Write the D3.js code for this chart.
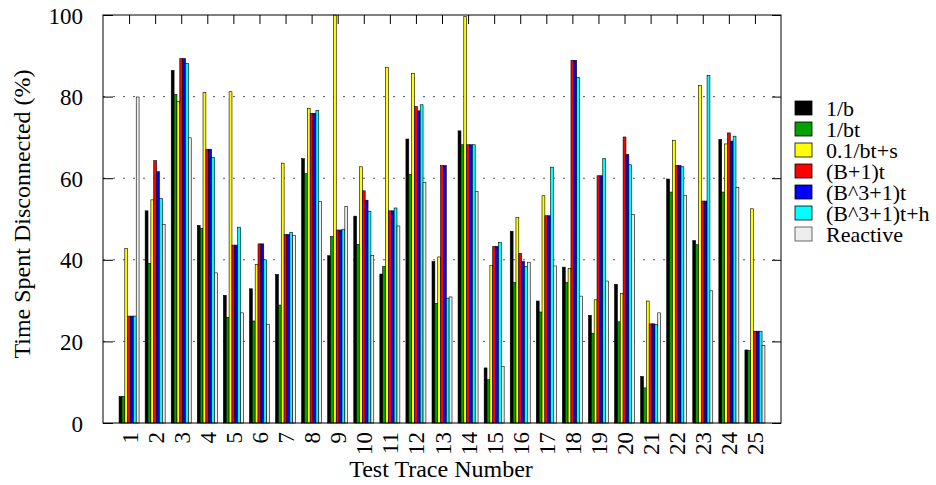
<!DOCTYPE html>
<html>
<head>
<meta charset="utf-8">
<script src="https://cdn.jsdelivr.net/npm/d3@7/dist/d3.min.js"></script>
<style>
  html, body { margin: 0; padding: 0; background: #fff; }
  svg { display: block; }
  text { font-family: "Liberation Serif", "Times New Roman", serif; fill: #000; }
</style>
</head>
<body>
<svg id="chart" width="936" height="485"></svg>
<script>
const traces = ["1","2","3","4","5","6","7","8","9","10","11","12","13","14","15","16","17","18","19","20","21","22","23","24","25"];
const seriesNames = ["1/b","1/bt","0.1/bt+s","(B+1)t","(B^3+1)t","(B^3+1)t+h","Reactive"];
const seriesColors = ["#000000","#00a000","#ffff00","#ff0000","#0000ff","#00ffff","#eeeeee"];
const yTicks = [0, 20, 40, 60, 80, 100];
const gridTicks = [20, 40, 60, 80];

const s_1b =     [6.5, 52.0, 86.4, 48.4, 31.3, 32.9, 36.4, 64.8, 41.0, 50.7, 36.5, 69.6, 39.6, 71.6, 13.5, 47.0, 29.9, 38.2, 26.4, 34.0, 11.4, 59.8, 44.7, 69.5, 17.9];
const s_1bt =    [6.5, 39.1, 80.5, 47.7, 25.9, 25.0, 28.9, 61.1, 45.7, 43.8, 38.4, 60.9, 29.3, 68.2, 10.6, 34.4, 27.2, 34.4, 22.0, 24.8, 8.6, 56.6, 43.7, 56.6, 17.8];
const s_01bts =  [42.8, 54.7, 78.8, 81.0, 81.2, 38.9, 63.7, 77.1, 100.0, 62.8, 87.2, 85.7, 40.7, 99.6, 38.6, 50.4, 55.7, 37.9, 30.2, 31.7, 29.9, 69.3, 82.7, 68.4, 52.5];
const s_B1t =    [26.2, 64.3, 89.3, 67.1, 43.6, 43.9, 46.2, 75.9, 47.3, 56.9, 52.0, 77.6, 63.1, 68.2, 43.3, 41.6, 50.8, 88.9, 60.6, 70.1, 24.3, 63.1, 54.4, 71.1, 22.5];
const s_B31t =   [26.2, 61.6, 89.3, 67.1, 43.6, 43.9, 46.2, 75.9, 47.3, 54.6, 52.0, 76.5, 63.1, 68.2, 43.3, 39.6, 50.8, 88.9, 60.6, 65.8, 24.3, 63.1, 54.4, 69.1, 22.5];
const s_B31th =  [26.2, 55.0, 88.1, 65.1, 48.0, 40.0, 46.7, 76.6, 47.5, 51.9, 52.7, 78.0, 30.6, 68.2, 44.3, 38.4, 62.7, 84.7, 64.8, 63.3, 24.1, 62.8, 85.2, 70.3, 22.5];
const s_react =  [79.9, 48.7, 69.9, 36.8, 27.0, 24.2, 46.0, 54.3, 53.1, 41.1, 48.3, 58.9, 30.9, 56.7, 13.8, 39.4, 38.5, 31.1, 34.8, 51.1, 27.0, 55.8, 32.4, 57.7, 19.0];

const seriesValues = [s_1b, s_1bt, s_01bts, s_B1t, s_B31t, s_B31th, s_react];

const svg = d3.select("#chart");
const L = 103, R = 781, T = 15, B = 423;

const x = d3.scaleLinear().domain([0, traces.length + 1]).range([L, R]);
const inner = d3.scaleBand().domain(seriesNames).range([-10, 10]).padding(0);
const y = d3.scaleLinear().domain([0, 100]).range([B, T]);

// grid
svg.append("g").selectAll("line").data(gridTicks).join("line")
  .attr("x1", L).attr("x2", R)
  .attr("y1", d => y(d)).attr("y2", d => y(d))
  .attr("stroke", "#555").attr("stroke-width", 1)
  .attr("stroke-dasharray", "2,8");

// bars
const bars = svg.append("g");
seriesNames.forEach((name, si) => {
  bars.append("g").selectAll("rect").data(seriesValues[si]).join("rect")
    .attr("x", (d, i) => x(i + 1) + inner(name))
    .attr("width", inner.bandwidth())
    .attr("y", d => y(d))
    .attr("height", d => y(0) - y(d))
    .attr("fill", seriesColors[si])
    .attr("stroke", "#000")
    .attr("stroke-width", 0.6);
});

// frame
svg.append("rect").attr("x", L).attr("y", T).attr("width", R - L).attr("height", B - T)
  .attr("fill", "none").attr("stroke", "#000").attr("stroke-width", 1);

// y axis ticks (inward) left and right
const yAxisL = d3.axisLeft(y).tickValues(yTicks).tickSize(-10).tickPadding(20).tickFormat(d3.format("d"));
const gL = svg.append("g").attr("transform", `translate(${L},0)`).call(yAxisL);
gL.select(".domain").remove();
gL.selectAll("text").attr("font-size", 23).attr("dy", "0.35em");
gL.selectAll("line").attr("stroke", "#000");

const yAxisR = d3.axisRight(y).tickValues(yTicks).tickSize(-9).tickFormat("");
const gR = svg.append("g").attr("transform", `translate(${R},0)`).call(yAxisR);
gR.select(".domain").remove();

// x axis: top ticks inward, labels rotated at bottom
const xTop = d3.axisTop(x).tickValues(traces.map((t, i) => i + 1)).tickSize(-9).tickFormat("");
const gT = svg.append("g").attr("transform", `translate(0,${T})`).call(xTop);
gT.select(".domain").remove();

const xBot = d3.axisBottom(x).tickValues(traces.map((t, i) => i + 1)).tickSize(0).tickPadding(0)
  .tickFormat((d) => traces[d - 1]);
const gB = svg.append("g").attr("transform", `translate(0,${B})`).call(xBot);
gB.select(".domain").remove();
gB.selectAll("text")
  .attr("font-size", 23)
  .attr("text-anchor", "end")
  .attr("transform", "translate(0,9) rotate(-90)")
  .attr("x", 0).attr("y", 0).attr("dy", "0.35em");

// axis titles
svg.append("text").attr("x", 441).attr("y", 477).attr("text-anchor", "middle")
  .attr("font-size", 24).text("Test Trace Number");
svg.append("text").attr("transform", "translate(30,214) rotate(-90)").attr("text-anchor", "middle")
  .attr("font-size", 24).text("Time Spent Disconnected (%)");

// legend
const leg = svg.append("g");
seriesNames.forEach((name, i) => {
  const yy = 101 + i * 21;
  leg.append("rect").attr("x", 795).attr("y", yy).attr("width", 17).attr("height", 14)
    .attr("fill", seriesColors[i]).attr("stroke", i === 6 ? "#444" : "#000").attr("stroke-width", 0.8);
  leg.append("text").attr("x", 826).attr("y", yy + 7).attr("dy", "0.35em")
    .attr("font-size", 22).text(name);
});
</script>
</body>
</html>
